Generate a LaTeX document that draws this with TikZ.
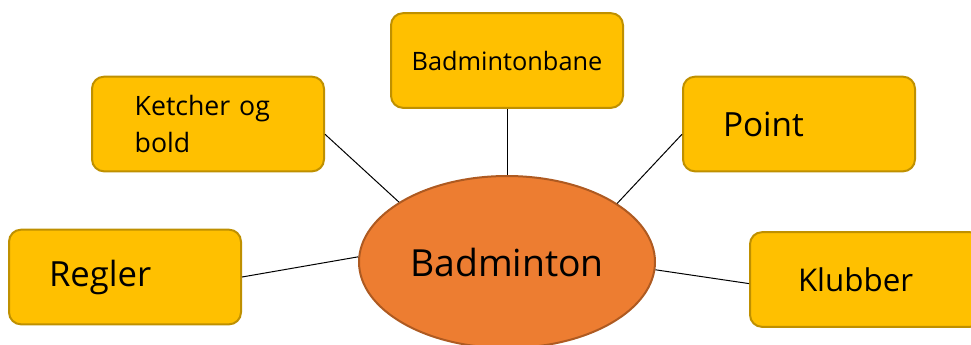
\documentclass[tikz,border=0pt]{standalone}
\usepackage{fontspec}
\setmainfont{Open Sans}
\usepackage{tikz}
\usetikzlibrary{shapes.geometric}
\definecolor{boxfill}{HTML}{FFC000}
\definecolor{boxline}{HTML}{BF9000}
\definecolor{hubfill}{HTML}{ED7D31}
\definecolor{hubline}{HTML}{AE5A21}
\tikzset{
  topic/.style={draw=boxline,fill=boxfill,line width=1.5pt,rounded corners=9pt,
    minimum width=174pt,minimum height=71pt,inner xsep=30pt,
    text width=114pt,align=left},
  link/.style={draw,black,line width=0.75pt}
}
\begin{document}
\begin{tikzpicture}[x=0.75pt,y=-0.75pt]
      \useasboundingbox (0,0) rectangle (971,344);
      \node[ellipse,draw=hubline,fill=hubfill,line width=1.5pt,
        minimum width=222pt,minimum height=129pt,
        font=\fontsize{28}{34}\selectfont] (hub) at (507,262) {Badminton};

      \node[topic,text width=150pt,inner xsep=12pt,align=center,
        font=\fontsize{19}{24}\selectfont] (bane) at (507,60.5) {Badmintonbane};
      \node[topic,inner xsep=32pt,text width=110pt,
        font=\fontsize{20}{28}\selectfont] (ketcher) at (208,124) {Ketcher og\\bold};
      \node[topic,font=\fontsize{25}{30}\selectfont] (point) at (799,124) {Point};
      \node[topic,font=\fontsize{26}{30}\selectfont] (regler) at (125,277) {Regler};
      \node[topic,inner xsep=36pt,text width=102pt,
        font=\fontsize{23.5}{28}\selectfont] (klubber) at (866,279.5) {Klubber};

      \draw[link] (bane.south) -- (hub.north);
      \draw[link] (ketcher.-5) -- (hub.151);
      \draw[link] (point.185) -- (hub.28);
      \draw[link] (regler.east) -- (hub.178);
      \draw[link] (klubber.182) -- (hub.-3);
\end{tikzpicture}
\end{document}
